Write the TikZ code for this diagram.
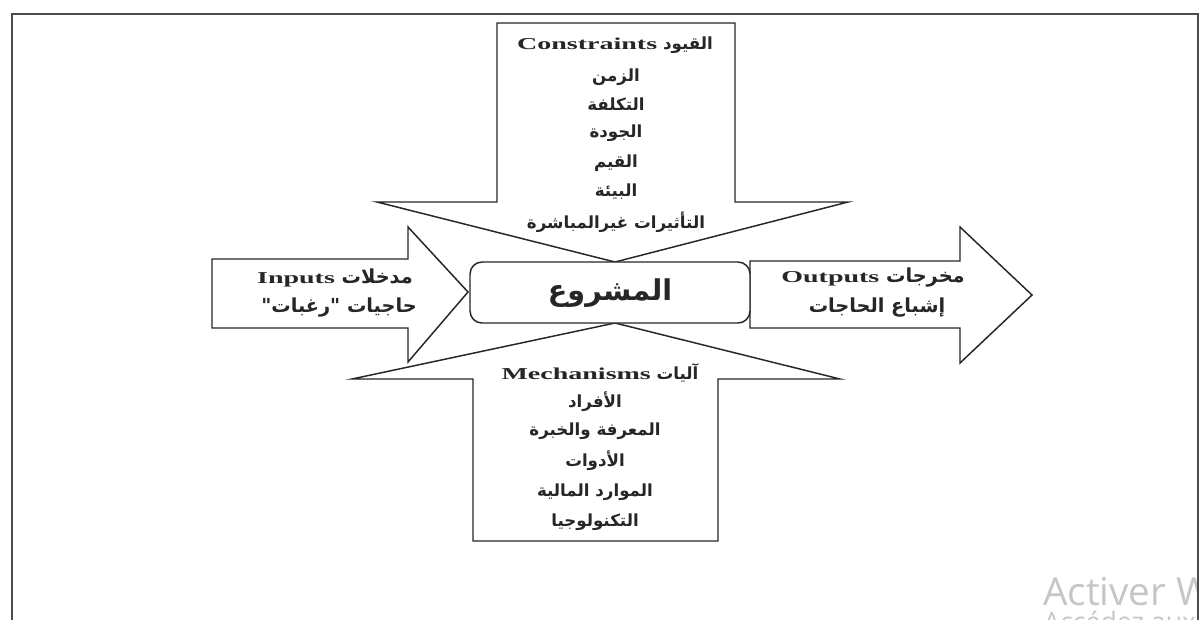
\documentclass[tikz,border=0pt]{standalone}
\usepackage{fontspec}
\usepackage{graphicx}
\setmainfont{Liberation Serif}
\newfontfamily\en{Liberation Serif}
\newfontfamily\ar{DejaVu Sans}[Script=Arabic]
\newfontfamily\wm{Open Sans}
\TeXXeTstate=1
\newcommand{\AR}[1]{{\ar\beginR #1\endR}}
\newcommand{\EN}[1]{\scalebox{1.68}[1]{\en\bfseries\fontsize{12.5}{14}\selectfont #1}}
\begin{document}
\begin{tikzpicture}[x=0.75pt,y=-0.75pt,
  arr/.style={draw=black!85, line width=1.1pt, fill=white, line join=miter},
  txt/.style={inner sep=0pt, font=\ar\bfseries\fontsize{12.5}{14}\selectfont, text=black!85},
  iotxt/.style={inner sep=0pt, font=\ar\bfseries\fontsize{14.5}{16}\selectfont, text=black!85}]
\useasboundingbox (0,0) rectangle (1203,619);
\clip (0,0) rectangle (1203,619);
\fill[white] (0,0) rectangle (1203,619);
% watermark
\begin{scope}
\clip (1000,540) rectangle (1196,619);
\node[anchor=base west, inner sep=0pt, text=gray!45, font=\wm\fontsize{29}{32}\selectfont] (wm1) at (1043,605) {Activer Windows};
\node[anchor=base west, inner sep=0pt, text=gray!45, font=\wm\fontsize{20}{22}\selectfont] (wm2) at (1043,631) {Accédez aux paramètres pour activer Windows.};
\end{scope}
% frame
\draw[gray!60!black, line width=1.4pt] (12,700) -- (12,14) -- (1198,14) -- (1198,700);
% arrows
\draw[arr] (497,23) -- (735,23) -- (735,202) -- (848,202) -- (615,262) -- (377,202) -- (497,202) -- cycle;
\draw[arr] (473,541) -- (718,541) -- (718,379) -- (840,379) -- (615,323) -- (352,379) -- (473,379) -- cycle;
\draw[arr] (212,259) -- (408,259) -- (408,227) -- (468,292) -- (408,362) -- (408,328) -- (212,328) -- cycle;
\draw[arr] (750,261) -- (960,261) -- (960,227) -- (1032,295) -- (960,363) -- (960,328) -- (750,328) -- cycle;
% project box
\draw[draw=black!85, line width=1.1pt, fill=white, rounded corners=9pt] (470,262) rectangle (750,323);
\node[inner sep=0pt, font=\ar\bfseries\fontsize{21.5}{24}\selectfont, text=black!85] (proj) at (610,293) {\AR{المشروع}};
% constraints
\node[txt] (c0) at (615,45) {\EN{Constraints} \AR{القيود}};
\node[txt] (c1) at (616,77) {\AR{الزمن}};
\node[txt] (c2) at (616,104) {\AR{التكلفة}};
\node[txt] (c3) at (616,133) {\AR{الجودة}};
\node[txt] (c4) at (616,163) {\AR{القيم}};
\node[txt] (c5) at (616,192) {\AR{البيئة}};
\node[txt] (c6) at (616,222) {\AR{التأثيرات غيرالمباشرة}};
% mechanisms
\node[txt] (m0) at (600,373) {\EN{Mechanisms} \AR{آليات}};
\node[txt] (m1) at (595,402) {\AR{الأفراد}};
\node[txt] (m2) at (595,431) {\AR{المعرفة والخبرة}};
\node[txt] (m3) at (595,461) {\AR{الأدوات}};
\node[txt] (m4) at (595,492) {\AR{الموارد المالية}};
\node[txt] (m5) at (595,522) {\AR{التكنولوجيا}};
% inputs
\node[iotxt] (i0) at (335,278) {\EN{Inputs} \AR{مدخلات}};
\node[iotxt] (i1) at (339,308) {\AR{حاجيات "رغبات"}};
% outputs
\node[iotxt] (o0) at (873,278) {\EN{Outputs} \AR{مخرجات}};
\node[iotxt] (o1) at (877,308) {\AR{إشباع الحاجات}};
\end{tikzpicture}
\end{document}
